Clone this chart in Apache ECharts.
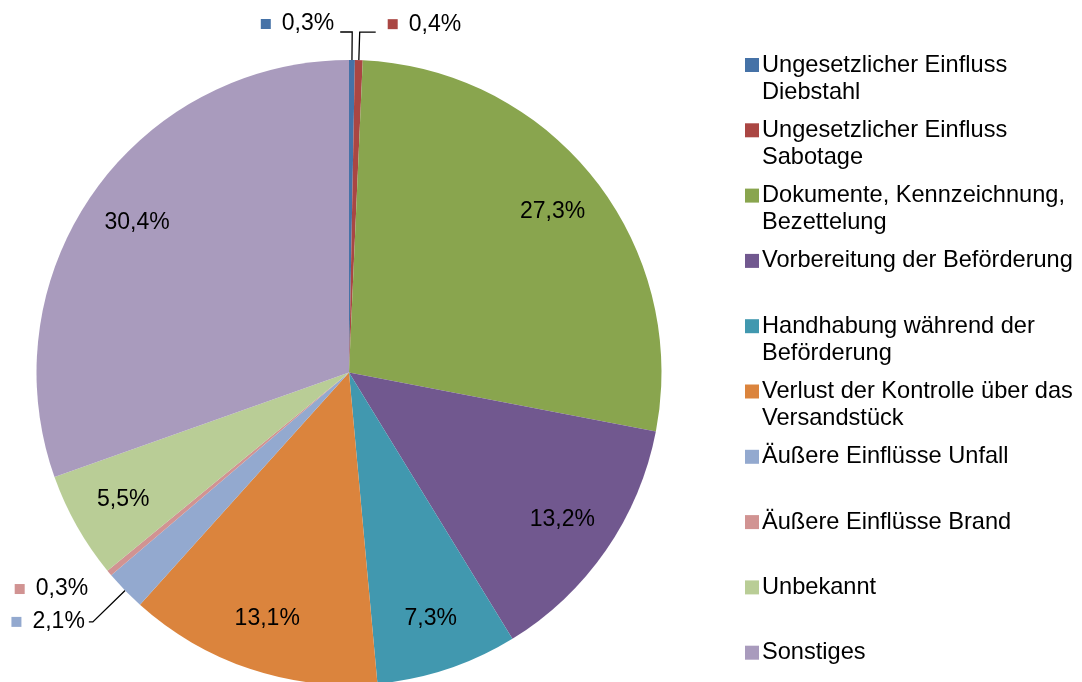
<!DOCTYPE html>
<html><head><meta charset="utf-8">
<script src="https://cdn.jsdelivr.net/npm/echarts@6/dist/echarts.min.js"></script>
<style>html,body{margin:0;padding:0;background:#fff}#c{width:1082px;height:682px}</style>
</head><body><div id="c"></div>
<script>
// ---- data ----
const categories = [
  'Ungesetzlicher Einfluss\nDiebstahl',
  'Ungesetzlicher Einfluss\nSabotage',
  'Dokumente, Kennzeichnung,\nBezettelung',
  'Vorbereitung der Beförderung',
  'Handhabung während der\nBeförderung',
  'Verlust der Kontrolle über das\nVersandstück',
  'Äußere Einflüsse Unfall',
  'Äußere Einflüsse Brand',
  'Unbekannt',
  'Sonstiges'
];
const shares = [0.3, 0.4, 27.3, 13.2, 7.3, 13.1, 2.1, 0.3, 5.5, 30.4];

// ---- style ----
const colors = ['#4572A7','#AA4643','#89A54E','#71588F','#4198AF','#DB843D','#93A9CF','#D19392','#B9CD96','#A99BBD'];
const FONT = '"Liberation Sans", Arial, sans-serif';
const pieCenter = [349, 372.5];
const pieRadius = 312.5;
const insideFactor = 0.83;
const outsideLabels = {
  0: { length: 28, length2: 12, dist: 6, mirror: true, padding: [0, 0, 16, 0] },
  1: { length: 28, length2: 16, dist: 12, padding: [0, 0, 16, 0] },
  6: { length: 45, length2: 4, dist: 4, padding: 0 },
  7: { length: 25, length2: 0, dist: 2, hideLine: true, padding: 0 }
};
const fmt = v => v.toFixed(1).replace('.', ',') + '%';

const labelRich = { v: { fontSize: 23, color: '#000', fontFamily: FONT }, g: { width: 11 } };
const legendRich = {
  t: { fontSize: 23.6, lineHeight: 27, color: '#000', fontFamily: FONT },
  s: { width: 14, height: 14 },
  g: { width: 3 }
};
colors.forEach((c, i) => {
  labelRich['m' + i] = { width: 10, height: 10, backgroundColor: c };
  legendRich['m' + i] = { width: 14, height: 14, backgroundColor: c };
});

const seriesData = categories.map((name, i) => {
  const item = { name: name, value: shares[i], itemStyle: { color: colors[i] } };
  const o = outsideLabels[i];
  if (o) {
    item.label = { position: 'outside', distanceToLabelLine: o.dist, padding: o.padding };
    item.labelLine = { show: !o.hideLine, length: o.length, length2: o.length2 };
  } else {
    item.label = { position: 'inside' };
    item.labelLine = { show: false };
  }
  return item;
});

const chart = echarts.init(document.getElementById('c'), null, { renderer: 'canvas' });
chart.setOption({
  animation: false,
  backgroundColor: '#fff',
  legend: {
    orient: 'vertical',
    left: 740,
    top: 51.5,
    padding: 0,
    itemGap: 11.3,
    itemWidth: 0,
    itemHeight: 0,
    icon: 'rect',
    selectedMode: false,
    data: categories,
    textStyle: { fontFamily: FONT, fontSize: 23.6, lineHeight: 27, color: '#000', rich: legendRich },
    formatter: function (name) {
      const i = categories.indexOf(name);
      const lines = name.split('\n');
      const first = '{m' + i + '|}{g|}{t|' + lines[0] + '}';
      if (i === categories.length - 1 && !lines[1]) return first;
      const second = lines[1] ? '{s|}{g|}{t|' + lines[1] + '}' : '{t| }';
      return first + '\n' + second;
    }
  },
  series: [{
    type: 'pie',
    center: pieCenter,
    radius: pieRadius,
    startAngle: 90,
    clockwise: true,
    avoidLabelOverlap: false,
    silent: true,
    itemStyle: { borderWidth: 0 },
    emphasis: { disabled: true },
    label: {
      show: true,
      color: '#000',
      fontFamily: FONT,
      fontSize: 23,
      rich: labelRich,
      formatter: function (p) {
        if (outsideLabels[p.dataIndex]) {
          return '{m' + p.dataIndex + '|}{g|}{v|' + fmt(p.value) + '}';
        }
        return '{v|' + fmt(p.value) + '}';
      }
    },
    labelLine: { lineStyle: { color: '#000', width: 1.3 }, smooth: false },
    labelLayout: function (p) {
      const i = p.dataIndex;
      const r = p.labelRect;
      const o = outsideLabels[i];
      if (!o) {
        const lx = r.x + r.width / 2, ly = r.y + r.height / 2;
        const dx = lx - pieCenter[0], dy = ly - pieCenter[1];
        const d = Math.sqrt(dx * dx + dy * dy) || 1;
        return {
          x: pieCenter[0] + dx / d * pieRadius * insideFactor,
          y: pieCenter[1] + dy / d * pieRadius * insideFactor
        };
      }
      if (o.mirror && p.labelLinePoints) {
        const pts = p.labelLinePoints;
        const bend = pts[1], end = pts[2];
        const newEnd = [bend[0] - Math.abs(end[0] - bend[0]), end[1]];
        return {
          x: newEnd[0] - o.dist,
          y: end[1],
          align: 'right',
          labelLinePoints: [pts[0], bend, newEnd]
        };
      }
    },
    data: seriesData
  }]
});
</script>
</body></html>
